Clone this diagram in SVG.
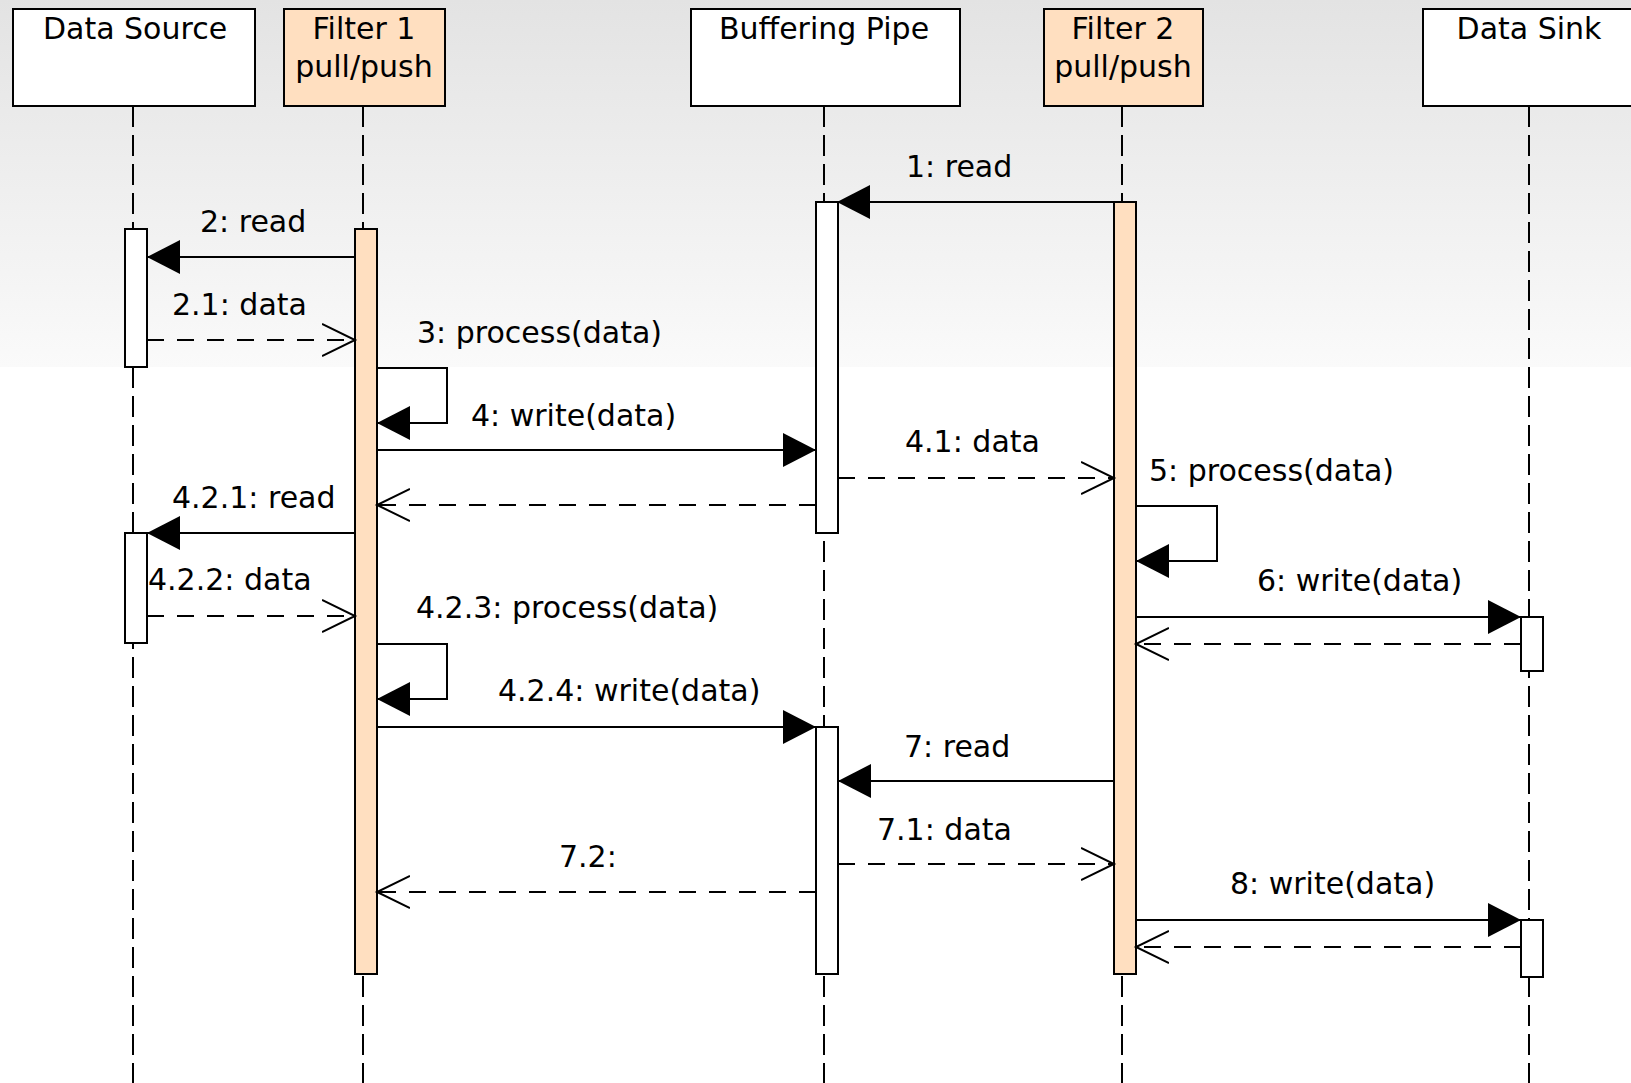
<svg xmlns="http://www.w3.org/2000/svg" width="1631" height="1083" viewBox="0 0 1631 1083">
<defs>
<linearGradient id="bg" x1="0" y1="0" x2="0" y2="1">
<stop offset="0" stop-color="#e3e3e3"/>
<stop offset="1" stop-color="#fafafa"/>
</linearGradient>
<marker id="filled" markerUnits="userSpaceOnUse" markerWidth="36" markerHeight="38" refX="33" refY="18" orient="auto">
<path d="M0,1 L33,18 L0,35 Z" fill="#000"/>
</marker>
<marker id="open" markerUnits="userSpaceOnUse" markerWidth="36" markerHeight="38" refX="33" refY="18" orient="auto">
<path d="M0,2 L33,18 L0,34" fill="none" stroke="#000" stroke-width="2"/>
</marker>
</defs>
<style>
.hdr{stroke:#000;stroke-width:2}
.plain{fill:#fff}
.filter{fill:#ffdfc0}
.life{stroke:#000;stroke-width:2;stroke-dasharray:21 8;fill:none}
.act{stroke:#000;stroke-width:2}
.msg{stroke:#000;stroke-width:2;fill:none;marker-end:url(#filled)}
.ret{stroke:#000;stroke-width:2;fill:none;stroke-dasharray:17 13;marker-end:url(#open)}
text{font-family:"DejaVu Sans","Liberation Sans",sans-serif;font-size:30px;fill:#000}
.c{text-anchor:middle}
</style>
<rect x="0" y="0" width="1631" height="1083" fill="#fff"/>
<rect x="0" y="0" width="1631" height="367" fill="url(#bg)"/>

<g id="lifelines">
<line class="life" x1="133" y1="106" x2="133" y2="1083"/>
<line class="life" x1="363" y1="106" x2="363" y2="1083"/>
<line class="life" x1="824" y1="106" x2="824" y2="1083"/>
<line class="life" x1="1122" y1="106" x2="1122" y2="1083"/>
<line class="life" x1="1529" y1="106" x2="1529" y2="1083"/>
</g>

<g id="node-data-source">
<rect class="hdr plain" x="13" y="9" width="242" height="97"/>
<text class="c" x="135" y="39">Data Source</text>
<rect class="act plain" x="125" y="229" width="22" height="138"/>
<rect class="act plain" x="125" y="533" width="22" height="110"/>
</g>

<g id="node-filter-1">
<rect class="hdr filter" x="284" y="9" width="161" height="97"/>
<text class="c" x="364" y="39">Filter 1</text>
<text class="c" x="364" y="77">pull/push</text>
<rect class="act filter" x="355" y="229" width="22" height="745"/>
</g>

<g id="node-buffering-pipe">
<rect class="hdr plain" x="691" y="9" width="269" height="97"/>
<text class="c" x="824" y="39">Buffering Pipe</text>
<rect class="act plain" x="816" y="202" width="22" height="331"/>
<rect class="act plain" x="816" y="727" width="22" height="247"/>
</g>

<g id="node-filter-2">
<rect class="hdr filter" x="1044" y="9" width="159" height="97"/>
<text class="c" x="1123" y="39">Filter 2</text>
<text class="c" x="1123" y="77">pull/push</text>
<rect class="act filter" x="1114" y="202" width="22" height="772"/>
</g>

<g id="node-data-sink">
<rect class="hdr plain" x="1423" y="9" width="214" height="97"/>
<text class="c" x="1529" y="39">Data Sink</text>
<rect class="act plain" x="1521" y="617" width="22" height="54"/>
<rect class="act plain" x="1521" y="920" width="22" height="57"/>
</g>

<g id="connectors">
<line class="msg" x1="1114" y1="202" x2="837" y2="202"/>
<text x="906" y="177">1: read</text>
<line class="msg" x1="355" y1="257" x2="147" y2="257"/>
<text x="200" y="232">2: read</text>
<line class="ret" x1="147" y1="340" x2="355" y2="340"/>
<text x="172" y="315">2.1: data</text>
<path class="msg" d="M377,368 H447 V423 H377"/>
<text x="417" y="343">3: process(data)</text>
<line class="msg" x1="377" y1="450" x2="816" y2="450"/>
<text x="471" y="426">4: write(data)</text>
<line class="ret" x1="838" y1="478" x2="1114" y2="478"/>
<text x="905" y="452">4.1: data</text>
<line class="ret" x1="816" y1="505" x2="377" y2="505"/>
<line class="msg" x1="355" y1="533" x2="147" y2="533"/>
<text x="172" y="508">4.2.1: read</text>
<path class="msg" d="M1136,506 H1217 V561 H1136"/>
<text x="1149" y="481">5: process(data)</text>
<line class="ret" x1="147" y1="616" x2="355" y2="616"/>
<text x="148" y="590">4.2.2: data</text>
<line class="msg" x1="1136" y1="617" x2="1521" y2="617"/>
<text x="1257" y="591">6: write(data)</text>
<line class="ret" x1="1521" y1="644" x2="1136" y2="644"/>
<path class="msg" d="M377,644 H447 V699 H377"/>
<text x="416" y="618">4.2.3: process(data)</text>
<line class="msg" x1="377" y1="727" x2="816" y2="727"/>
<text x="498" y="701">4.2.4: write(data)</text>
<line class="msg" x1="1114" y1="781" x2="838" y2="781"/>
<text x="904" y="757">7: read</text>
<line class="ret" x1="838" y1="864" x2="1114" y2="864"/>
<text x="877" y="840">7.1: data</text>
<line class="ret" x1="816" y1="892" x2="377" y2="892"/>
<text x="559" y="867">7.2:</text>
<line class="msg" x1="1136" y1="920" x2="1521" y2="920"/>
<text x="1230" y="894">8: write(data)</text>
<line class="ret" x1="1521" y1="947" x2="1136" y2="947"/>
</g>
</svg>
